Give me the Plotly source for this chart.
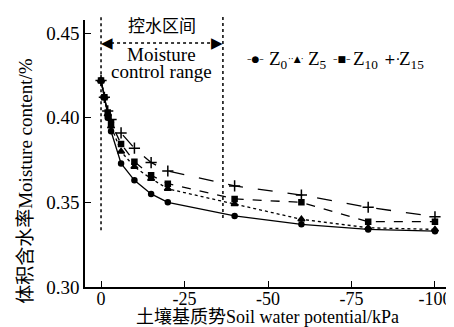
import plotly.graph_objects as go

# ---- data ----
suction = [0, -1, -2, -3, -6, -10, -15, -20, -40, -60, -80, -100]
z0 = [0.422, 0.412, 0.400, 0.392, 0.373, 0.363, 0.355, 0.350, 0.342, 0.337, 0.334, 0.333]
z5 = [0.422, 0.412, 0.402, 0.395, 0.380, 0.371, 0.364, 0.358, 0.349, 0.340, 0.335, 0.334]
z10 = [0.422, 0.412, 0.403, 0.397, 0.3845, 0.374, 0.366, 0.361, 0.352, 0.350, 0.3386, 0.3386]
z15 = [0.422, 0.412, 0.404, 0.399, 0.391, 0.382, 0.3735, 0.3685, 0.3597, 0.3543, 0.3471, 0.3415]
series_names = ["Z<sub>0</sub>", "Z<sub>5</sub>", "Z<sub>10</sub>", "Z<sub>15</sub>"]
x_ticks = [0, -25, -50, -75, -100]
x_ticklabels = ["0", "-25", "-50", "-75", "-100"]
y_ticks = [0.30, 0.35, 0.40, 0.45]
control_range = [0, -36.5]

SERIF = "Liberation Serif, 'Noto Sans CJK SC'"

styles = [
    dict(dash="solid", symbol="circle", size=5, key="–●–"),
    dict(dash="dot", symbol="triangle-up", size=6, key="··▲·"),
    dict(dash="dash", symbol="square", size=5, key="–■–"),
    dict(dash="longdash", symbol="cross-thin-open", size=8, key="+·"),
]

fig = go.Figure()
for name, vals, st in zip(series_names, [z0, z5, z10, z15], styles):
    fig.add_trace(go.Scatter(
        x=suction, y=vals, name=name, mode="lines+markers", showlegend=False,
        line=dict(color="black", width=1.3, dash=st["dash"]),
        marker=dict(color="black", symbol=st["symbol"], size=st["size"],
                    line=dict(color="black", width=1.5)),
    ))

# manual compact legend (keys + labels)
legend_key_x = [0.468, 0.578, 0.704, 0.841]
legend_txt_x = [0.499, 0.606, 0.730, 0.856]
legend_y = 0.85
key_fonts = [9, 9, 9, 14]
for name, st, kx, tx, kf in zip(series_names, styles, legend_key_x, legend_txt_x, key_fonts):
    fig.add_annotation(x=kx, y=legend_y + 0.005, xref="paper", yref="paper", text=st["key"],
                       showarrow=False, xanchor="center", yanchor="middle",
                       font=dict(family="DejaVu Sans", size=kf, color="black"))
    fig.add_annotation(x=tx, y=legend_y, xref="paper", yref="paper", text=name,
                       showarrow=False, xanchor="left", yanchor="middle",
                       font=dict(family=SERIF, size=19, color="black"))

# control range vertical dotted lines
fig.add_shape(type="line", xref="x", yref="paper", x0=control_range[0], x1=control_range[0],
              y0=0.213, y1=1.022, line=dict(color="black", width=1.5, dash="dot"))
fig.add_shape(type="line", xref="x", yref="paper", x0=control_range[1], x1=control_range[1],
              y0=0.258, y1=1.022, line=dict(color="black", width=1.5, dash="dot"))
# horizontal dotted arrow
fig.add_shape(type="line", xref="x", yref="y", x0=control_range[0] - 3, x1=control_range[1] + 3,
              y0=0.4441, y1=0.4441, line=dict(color="black", width=1.5, dash="dot"))
fig.add_annotation(x=control_range[0], y=0.4441, xref="x", yref="y", text="◀", showarrow=False,
                   xanchor="left", yanchor="middle", xshift=-2,
                   font=dict(family="DejaVu Sans", size=15, color="black"))
fig.add_annotation(x=control_range[1], y=0.4441, xref="x", yref="y", text="▶", showarrow=False,
                   xanchor="right", yanchor="middle", xshift=2,
                   font=dict(family="DejaVu Sans", size=15, color="black"))
mid = (control_range[0] + control_range[1]) / 2
fig.add_annotation(x=mid, y=0.4536, xref="x", yref="y", text="控水区间", showarrow=False,
                   font=dict(family=SERIF, size=17, color="black"))
fig.add_annotation(x=mid, y=0.4375, xref="x", yref="y", text="Moisture", showarrow=False,
                   font=dict(family=SERIF, size=19, color="black"))
fig.add_annotation(x=mid, y=0.4270, xref="x", yref="y", text="control range", showarrow=False,
                   font=dict(family=SERIF, size=19, color="black"))

# axis titles as annotations
fig.add_annotation(x=-0.165, y=0.397, xref="paper", yref="paper", text="体积含水率Moisture content/%",
                   textangle=-90, showarrow=False, xanchor="center", yanchor="middle",
                   font=dict(family=SERIF, size=19, color="black"))
fig.add_annotation(x=0.5, y=-0.114, xref="paper", yref="paper", text="土壤基质势Soil water potential/kPa",
                   showarrow=False, xanchor="center", yanchor="middle",
                   font=dict(family=SERIF, size=18, color="black"))

# page body has an 8px default margin: size the figure so the plot sits where the reference has it
fig.update_layout(
    width=446, height=319,
    margin=dict(l=77, r=4, t=12, b=40),
    paper_bgcolor="white", plot_bgcolor="white",
    font=dict(family=SERIF, size=18, color="black"),
    showlegend=False,
    xaxis=dict(range=[4.8, -104.5], tickvals=x_ticks, ticktext=x_ticklabels,
               ticks="inside", ticklen=6, tickwidth=1.3, tickcolor="black",
               ticklabelstandoff=-5,
               showline=True, linewidth=1.5, linecolor="black", showgrid=False, zeroline=False),
    yaxis=dict(range=[0.30, 0.4577], tickvals=y_ticks, tickformat=".2f",
               ticks="inside", ticklen=6, tickwidth=1.3, tickcolor="black",
               tickfont=dict(size=19),
               showline=True, linewidth=1.5, linecolor="black", showgrid=False, zeroline=False),
)

fig.write_html("out.html")
